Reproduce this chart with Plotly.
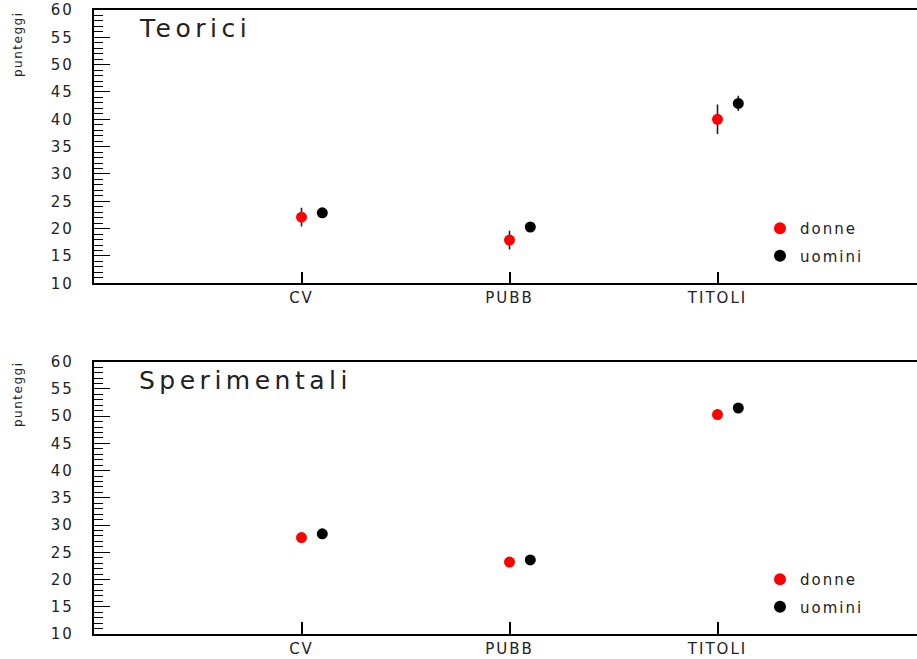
import plotly.graph_objects as go

categories = ["CV", "PUBB", "TITOLI"]
y_ticks = [10, 15, 20, 25, 30, 35, 40, 45, 50, 55, 60]

teorici_donne = [22.1, 17.9, 40.0]
teorici_donne_err = [1.7, 1.7, 2.7]
teorici_uomini = [22.9, 20.3, 42.9]
teorici_uomini_err = [0.5, 0.4, 1.4]

sperim_donne = [27.7, 23.2, 50.3]
sperim_donne_err = [0.5, 0.4, 0.9]
sperim_uomini = [28.4, 23.6, 51.5]
sperim_uomini_err = [0.4, 0.4, 0.6]

panel_titles = ["Teorici", "Sperimentali"]
series_names = ["donne", "uomini"]
series_colors = ["#ff0000", "#000000"]

W, H = 917, 659
FONT = "DejaVu Sans"
TXT = "#222222"


def spaced(t, px):
    return '<span style="letter-spacing:%spx">%s</span>' % (px, t)


x_base = [i + 1 for i in range(len(categories))]
offset = 0.1

fig = go.Figure()

panels = [
    (teorici_donne, teorici_donne_err, teorici_uomini, teorici_uomini_err, "x", "y", "legend"),
    (sperim_donne, sperim_donne_err, sperim_uomini, sperim_uomini_err, "x2", "y2", "legend2"),
]

for (dv, de, uv, ue, xa, ya, lg) in panels:
    for k, (vals, errs) in enumerate([(dv, de), (uv, ue)]):
        fig.add_trace(go.Scatter(
            x=[b + k * offset for b in x_base], y=vals,
            mode="markers",
            name=spaced(series_names[k], 2),
            marker=dict(color=series_colors[k], size=11, line=dict(width=0)),
            error_y=dict(type="data", array=errs, visible=True, color="#222222",
                         thickness=1.6, width=0),
            xaxis=xa, yaxis=ya, legend=lg, legendgroup=lg + series_names[k],
            showlegend=True, cliponaxis=False, hoverinfo="skip",
        ))

x_left = 93.5 / W
x_range = [0, (W - 93.5) / 208.0]


def ydom(top_px, bot_px):
    return [1 - bot_px / H, 1 - top_px / H]


xaxis_common = dict(
    range=x_range, tickvals=x_base, ticktext=[spaced(c, 2) for c in categories],
    showline=True, linecolor="black", linewidth=1.5, mirror=True,
    ticks="inside", ticklen=12, tickwidth=1.5, tickcolor="black",
    showgrid=False, zeroline=False, automargin=False,
    tickfont=dict(family=FONT, size=15, color=TXT),
    domain=[x_left, 1.0],
)
yaxis_common = dict(
    range=[10, 60], tickvals=y_ticks, ticktext=[spaced(str(v), 2) for v in y_ticks],
    showline=True, linecolor="black", linewidth=1.5,
    ticks="inside", ticklen=17, tickwidth=1.3, tickcolor="black",
    minor=dict(dtick=1, ticks="inside", ticklen=10, tickwidth=1, tickcolor="black"),
    showgrid=False, zeroline=False, automargin=False,
    tickfont=dict(family=FONT, size=15, color=TXT),
    ticklabelstandoff=15,
)

legend_common = dict(
    xanchor="left", yanchor="top",
    font=dict(family=FONT, size=15, color=TXT),
    bgcolor="rgba(0,0,0,0)", tracegroupgap=5, itemsizing="constant",
)

fig.update_layout(
    width=W, height=H,
    margin=dict(l=0, r=0, t=0, b=0, autoexpand=False),
    paper_bgcolor="white", plot_bgcolor="white",
    xaxis=dict(**xaxis_common, anchor="y"),
    yaxis=dict(**yaxis_common, domain=ydom(10, 283.3), anchor="x"),
    xaxis2=dict(**xaxis_common, anchor="y2"),
    yaxis2=dict(**yaxis_common, domain=ydom(361.7, 634), anchor="x2"),
    legend=dict(**legend_common, x=760 / W, y=1 - 212 / H),
    legend2=dict(**legend_common, x=760 / W, y=1 - 563 / H),
)

title_pos = [(29, 45), (380, 395)]
for t, (ty, ly) in zip(panel_titles, title_pos):
    fig.add_annotation(
        text=spaced(t, 4.5),
        xref="paper", yref="paper", x=137 / W, y=1 - ty / H,
        xanchor="left", yanchor="middle", showarrow=False,
        font=dict(family=FONT, size=25, color=TXT),
    )
    fig.add_annotation(
        text=spaced("punteggi", 1.5), textangle=-90,
        xref="paper", yref="paper", x=18 / W, y=1 - ly / H,
        xanchor="center", yanchor="middle", showarrow=False,
        font=dict(family=FONT, size=12, color=TXT),
    )

fig.write_html("out.html", config={"displayModeBar": False},
               post_script="document.body.style.margin='0';document.body.style.overflow='hidden';")
